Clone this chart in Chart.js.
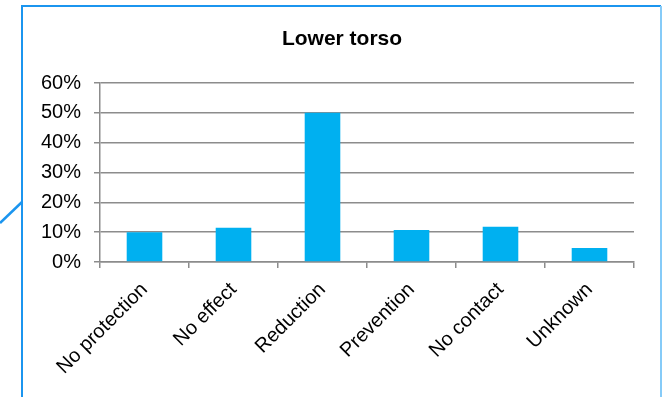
<!DOCTYPE html>
<html lang="en">
<head>
    <meta charset="UTF-8">
    <title>Lower torso</title>
    <style>
        html, body { margin: 0; padding: 0; background: #fff; }
        #wrap { width: 663px; height: 397px; position: relative; }
    </style>
</head>
<body>
    <div id="wrap">
        <canvas id="myChart"></canvas>
    </div>

    <script src="https://cdn.jsdelivr.net/npm/chart.js"></script>

    <script>
        // data
        const categories = ['No protection', 'No effect', 'Reduction', 'Prevention', 'No contact', 'Unknown'];
        const shares = [0.10, 0.115, 0.50, 0.107, 0.118, 0.047];
        const yTickLabels = ['0%', '10%', '20%', '30%', '40%', '50%', '60%'];
        const chartTitle = 'Lower torso';

        const fontFamily = "'Liberation Sans', Arial, sans-serif";

        // frame around the chart, the stray callout line on the left,
        // and the title centred on the frame (not on the plot)
        const framePlugin = {
            id: 'frame',
            beforeDraw(chart) {
                const c = chart.ctx;
                c.save();
                c.lineWidth = 2;
                c.strokeStyle = '#1b95ef';
                c.beginPath();
                c.moveTo(22, 400);
                c.lineTo(22, 6);
                c.lineTo(661, 6);
                c.stroke();
                c.strokeStyle = '#86cbf8';
                c.beginPath();
                c.moveTo(661, 6);
                c.lineTo(661, 400);
                c.stroke();
                c.strokeStyle = '#1b95ef';
                c.lineWidth = 2.5;
                c.beginPath();
                c.moveTo(0, 223);
                c.lineTo(22, 202);
                c.stroke();

                c.fillStyle = '#000';
                c.font = 'bold 21px ' + fontFamily;
                c.textAlign = 'center';
                c.textBaseline = 'middle';
                c.fillText(chartTitle, 342, 39);
                c.restore();
            }
        };

        const ctx = document.getElementById('myChart');

        new Chart(ctx, {
            type: 'bar',
            data: {
                labels: categories,
                datasets: [{
                    data: shares,
                    backgroundColor: '#00b0f0',
                    borderWidth: 0,
                    categoryPercentage: 1,
                    barPercentage: 0.4
                }]
            },
            options: {
                responsive: true,
                maintainAspectRatio: false,
                animation: false,
                layout: {
                    padding: { left: 30, right: 29, top: 83, bottom: 0 }
                },
                plugins: {
                    legend: { display: false },
                    tooltip: { enabled: false },
                    title: { display: false }
                },
                scales: {
                    x: {
                        afterFit(scale) { scale.height = 135; },
                        border: { color: '#8c8c8c', width: 1.5 },
                        grid: {
                            drawOnChartArea: false,
                            drawTicks: true,
                            tickLength: 6,
                            color: '#8c8c8c',
                            lineWidth: 1.5
                        },
                        ticks: {
                            autoSkip: false,
                            maxRotation: 45,
                            minRotation: 45,
                            padding: 10,
                            color: '#000',
                            font: { family: fontFamily, size: 20 }
                        }
                    },
                    y: {
                        min: 0,
                        max: 0.6,
                        afterFit(scale) { scale.width = 70; },
                        border: { color: '#8c8c8c', width: 1.5 },
                        grid: {
                            color: '#8c8c8c',
                            lineWidth: 1.5,
                            tickLength: 6
                        },
                        ticks: {
                            stepSize: 0.1,
                            padding: 13,
                            color: '#000',
                            font: { family: fontFamily, size: 20 },
                            callback: (value, index) => yTickLabels[index]
                        }
                    }
                }
            },
            plugins: [framePlugin]
        });
    </script>
</body>
</html>
